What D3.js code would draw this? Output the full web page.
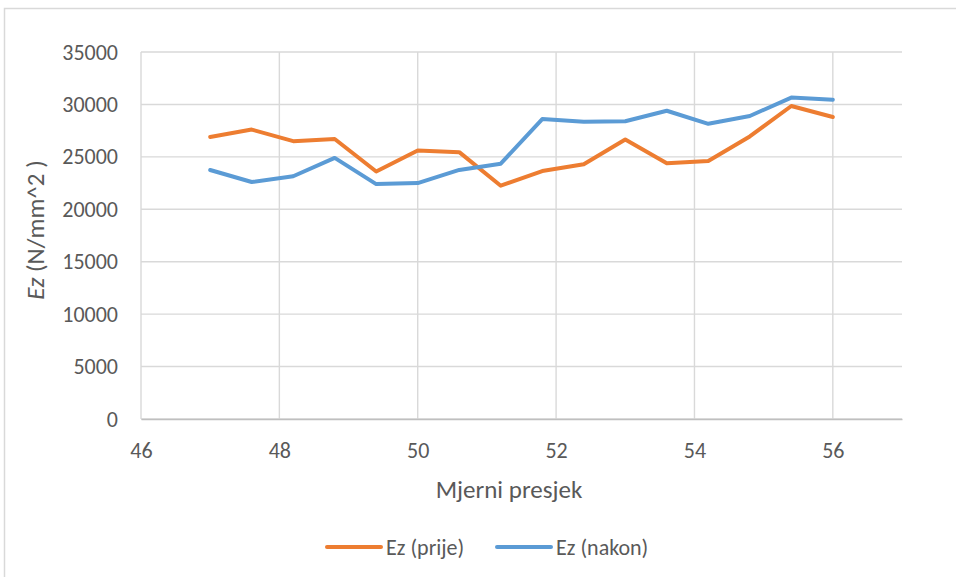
<!DOCTYPE html>
<html>
<head>
<meta charset="utf-8">
<script src="https://cdn.jsdelivr.net/npm/d3@7"></script>
<style>
  body { margin: 0; background: #fff; }
  text { font-family: Calibri, Carlito, Lato, sans-serif; fill: #595959; }
</style>
</head>
<body>
<div id="chart"></div>
<script>
// Mjerni presjek (x) and Ez values
let presjek = [47, 47.6, 48.2, 48.8, 49.4, 50, 50.6, 51.2, 51.8, 52.4, 53, 53.6, 54.2, 54.8, 55.4, 56];
let ezPrije = [26900, 27600, 26500, 26700, 23600, 25600, 25450, 22250, 23650, 24300, 26650, 24400, 24600, 26950, 29850, 28800];
let ezNakon = [23750, 22600, 23150, 24900, 22400, 22500, 23750, 24350, 28600, 28350, 28400, 29400, 28150, 28900, 30650, 30450];
let xTicks = [46, 48, 50, 52, 54, 56];
let yTicks = [0, 5000, 10000, 15000, 20000, 25000, 30000, 35000];
let seriesNames = ["Ez (prije)", "Ez (nakon)"];
let seriesColors = ["#ED7D31", "#5B9BD5"];

window.onload = () => {
  drawChart();
};

let drawChart = () => {
  let width = 956, height = 577;
  let plot = {left: 141, right: 902, top: 52, bottom: 419};

  let svg = d3.select("#chart")
    .append("svg")
    .attr("width", width)
    .attr("height", height);

  // outer chart border
  svg.append("rect")
    .attr("x", 4.5)
    .attr("y", 8.5)
    .attr("width", width + 20)
    .attr("height", height + 20)
    .attr("fill", "none")
    .attr("stroke", "#d9d9d9")
    .attr("stroke-width", 1.5);

  let x = d3.scaleLinear().domain([46, 57]).range([plot.left, plot.right]);
  let y = d3.scaleLinear().domain([0, 35000]).range([plot.bottom, plot.top]);

  // gridlines
  svg.append("g")
    .selectAll("line")
    .data(yTicks)
    .enter()
    .append("line")
      .attr("x1", plot.left)
      .attr("x2", plot.right)
      .attr("y1", d => y(d))
      .attr("y2", d => y(d))
      .attr("stroke", "#d9d9d9")
      .attr("stroke-width", 1.4);

  svg.append("g")
    .selectAll("line")
    .data(xTicks)
    .enter()
    .append("line")
      .attr("x1", d => x(d))
      .attr("x2", d => x(d))
      .attr("y1", plot.top)
      .attr("y2", plot.bottom)
      .attr("stroke", "#d9d9d9")
      .attr("stroke-width", 1.4);

  // x axis
  let xAxis = svg.append("g")
    .attr("transform", "translate(0," + plot.bottom + ")")
    .call(d3.axisBottom(x).tickValues(xTicks).tickSize(0).tickPadding(23));
  xAxis.select(".domain").attr("stroke", "#bfbfbf").attr("stroke-width", 1.4);
  xAxis.selectAll("text").style("font-size", "22px").attr("fill", "#595959");

  // y axis
  let yAxis = svg.append("g")
    .attr("transform", "translate(" + plot.left + ",0)")
    .call(d3.axisLeft(y).tickValues(yTicks).tickSize(0).tickPadding(23).tickFormat(d3.format("d")));
  yAxis.select(".domain").remove();
  yAxis.selectAll("text").style("font-size", "22px").attr("fill", "#595959");

  // series lines
  let line = d3.line()
    .x((d, i) => x(presjek[i]))
    .y(d => y(d));

  [ezPrije, ezNakon].forEach((vals, k) => {
    svg.append("path")
      .datum(vals)
      .attr("d", line)
      .attr("fill", "none")
      .attr("stroke", seriesColors[k])
      .attr("stroke-width", 4)
      .attr("stroke-linejoin", "round")
      .attr("stroke-linecap", "round");
  });

  // axis titles
  svg.append("text")
    .attr("x", 509)
    .attr("y", 498)
    .attr("text-anchor", "middle")
    .style("font-size", "25px")
    .text("Mjerni presjek");

  let yTitle = svg.append("text")
    .attr("transform", "translate(44,230) rotate(-90)")
    .attr("text-anchor", "middle")
    .style("font-size", "25px");
  yTitle.append("tspan").style("font-style", "italic").text("Ez");
  yTitle.append("tspan").text(" (N/mm^2 )");

  // legend
  let legendX = [327, 497];
  let legend = svg.append("g")
    .selectAll("g")
    .data(seriesNames)
    .enter()
    .append("g")
      .attr("transform", (d, i) => "translate(" + legendX[i] + ",547)");
  legend.append("line")
    .attr("x1", 0)
    .attr("x2", 54)
    .attr("stroke", (d, i) => seriesColors[i])
    .attr("stroke-width", 4)
    .attr("stroke-linecap", "round");
  legend.append("text")
    .attr("x", 59)
    .attr("y", 8)
    .style("font-size", "22px")
    .text(d => d);
};
</script>
</body>
</html>
